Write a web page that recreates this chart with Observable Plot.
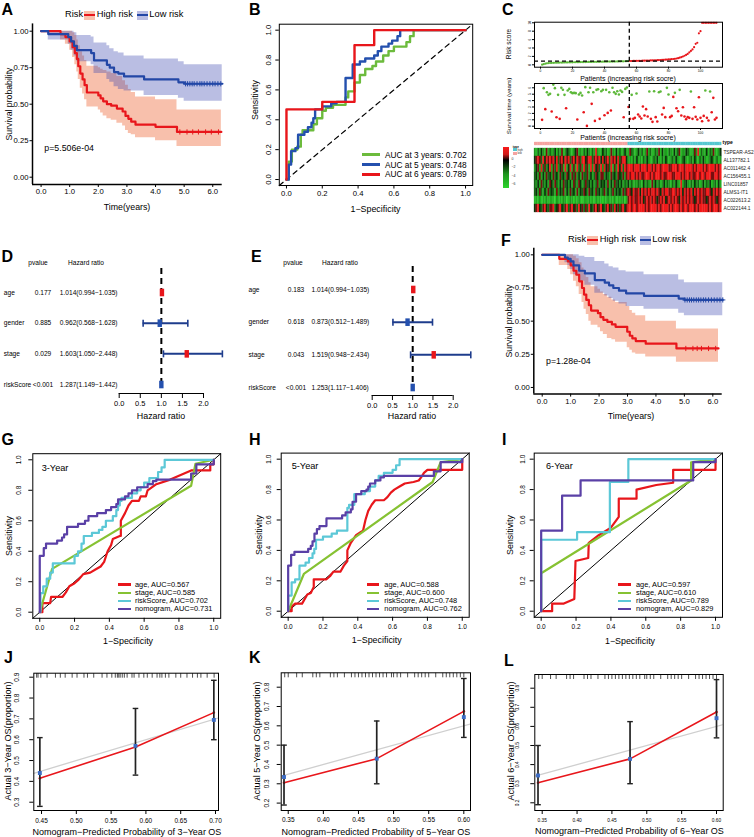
<!DOCTYPE html>
<html>
<head>
<meta charset="utf-8">
<script src="https://cdn.jsdelivr.net/npm/d3@7"></script>
<script src="https://cdn.jsdelivr.net/npm/@observablehq/plot@0.6"></script>
<style>
  html, body { margin:0; padding:0; background:#fff; }
  #fig { position:relative; width:754px; height:837px; overflow:hidden; background:#fff;
         font-family: Arial, "Liberation Sans", Helvetica, sans-serif; color:#000; }
  #fig svg { position:absolute; overflow:visible; }
  .lbl { position:absolute; white-space:nowrap; line-height:1; }
  .key { position:absolute; }
</style>
</head>
<body>
<div id="fig"></div>
<script>
// ======================= DATA =======================
// --- A: Kaplan–Meier, training set (step points: time, survival, 95% CI) ---
const aHighTime  = [0,0.68,0.85,1.0,1.1,1.18,1.25,1.3,1.37,1.45,1.52,1.6,2.0,2.08,2.17,2.3,2.45,2.65,2.85,2.95,3.05,3.15,3.3,4.0,4.75,6.3];
const aHighSurv  = [1,0.98,0.96,0.93,0.89,0.85,0.81,0.76,0.71,0.67,0.63,0.58,0.56,0.54,0.52,0.50,0.49,0.47,0.45,0.42,0.40,0.38,0.36,0.345,0.31,0.31];
const aHighUpper = [1,1,1,1,0.99,0.97,0.94,0.90,0.86,0.83,0.80,0.76,0.75,0.74,0.73,0.72,0.71,0.69,0.66,0.63,0.60,0.58,0.55,0.53,0.46,0.46];
const aHighLower = [1,0.94,0.91,0.87,0.82,0.77,0.72,0.67,0.61,0.57,0.53,0.48,0.46,0.44,0.42,0.40,0.39,0.37,0.35,0.32,0.30,0.29,0.27,0.25,0.21,0.21];
const aHighCensor = [4.85,5.1,5.3,5.5,5.75,5.95,6.2];
const aLowTime  = [0,0.25,0.95,1.05,1.15,1.25,1.75,1.85,2.3,2.4,2.55,2.7,2.9,3.6,4.8,5.0,6.33];
const aLowSurv  = [1,0.98,0.96,0.93,0.90,0.87,0.85,0.80,0.77,0.75,0.72,0.71,0.69,0.67,0.65,0.64,0.64];
const aLowUpper = [1,1,1,1,0.99,0.97,0.96,0.92,0.90,0.88,0.86,0.85,0.83,0.81,0.79,0.77,0.77];
const aLowLower = [1,0.94,0.91,0.87,0.83,0.79,0.77,0.71,0.67,0.65,0.62,0.60,0.59,0.56,0.54,0.52,0.52];
const aLowCensor = [5.05,5.12,5.2,5.28,5.35,5.45,5.55,5.62,5.7,5.8,5.9,6.0,6.08,6.18,6.28];
const aPValue = "p=5.506e-04";

// --- F: Kaplan–Meier, validation set ---
const fHighTime  = [0,0.6,0.9,1.0,1.1,1.2,1.3,1.4,1.47,1.55,1.64,1.72,1.96,2.05,2.15,2.29,2.45,2.58,2.99,3.08,3.17,3.29,3.64,4.72,6.2];
const fHighSurv  = [1,0.97,0.95,0.92,0.88,0.85,0.80,0.75,0.70,0.66,0.62,0.58,0.56,0.53,0.51,0.495,0.475,0.457,0.42,0.39,0.37,0.35,0.33,0.294,0.294];
const fHighUpper = [1,1,1,1,0.99,0.97,0.94,0.90,0.86,0.83,0.79,0.76,0.74,0.72,0.70,0.68,0.66,0.64,0.61,0.58,0.56,0.54,0.50,0.44,0.44];
const fHighLower = [1,0.92,0.89,0.85,0.80,0.76,0.70,0.64,0.59,0.55,0.50,0.47,0.45,0.42,0.40,0.37,0.36,0.34,0.30,0.28,0.26,0.25,0.23,0.19,0.19];
const fHighCensor = [5.05,5.3,5.45,5.6,5.85,6.1];
const fLowTime  = [0,0.8,0.9,1.0,1.1,1.3,1.5,1.85,2.2,2.35,2.5,2.7,2.95,3.58,4.8,5.0,6.35];
const fLowSurv  = [1,0.98,0.97,0.95,0.92,0.88,0.86,0.81,0.79,0.77,0.75,0.73,0.71,0.69,0.67,0.66,0.66];
const fLowUpper = [1,1,1,1,1,0.99,0.98,0.95,0.93,0.91,0.90,0.88,0.87,0.85,0.81,0.79,0.79];
const fLowLower = [1,0.94,0.92,0.89,0.85,0.80,0.77,0.71,0.69,0.67,0.65,0.63,0.61,0.59,0.56,0.54,0.54];
const fLowCensor = [5.02,5.1,5.18,5.25,5.33,5.42,5.5,5.58,5.67,5.75,5.85,5.95,6.05,6.15,6.25,6.35];
const fPValue = "p=1.28e-04";

const kmTicksX = [0,1,2,3,4,5,6];
const kmTicksY = [0,0.25,0.5,0.75,1];

// --- B: time-dependent ROC (step corners: fpr, tpr) ---
const bRoc3Fpr = [0,0.013,0.03,0.06,0.08,0.09,0.15,0.17,0.2,0.22,0.26,0.33,0.345,0.38,0.41,0.44,0.48,0.5,0.54,0.57,0.6,0.67,0.69,0.71,1];
const bRoc3Tpr = [0,0.12,0.2,0.22,0.3,0.33,0.37,0.41,0.46,0.48,0.5,0.55,0.59,0.65,0.7,0.74,0.76,0.79,0.83,0.86,0.89,0.92,0.96,1,1];
const bRoc5Fpr = [0,0.013,0.026,0.05,0.065,0.1,0.12,0.14,0.15,0.16,0.2,0.25,0.28,0.33,0.37,0.41,0.44,0.49,0.51,0.53,0.57,0.59,0.62,0.635,1];
const bRoc5Tpr = [0,0.1,0.19,0.21,0.3,0.32,0.35,0.38,0.41,0.47,0.49,0.51,0.52,0.68,0.77,0.79,0.81,0.83,0.86,0.89,0.91,0.93,0.96,1,1];
const bRoc6Fpr = [0,0,0.2,0.38,0.49,1];
const bRoc6Tpr = [0,0.47,0.52,0.9,1,1];
const bLegend = ["AUC at 3 years: 0.702","AUC at 5 years: 0.748","AUC at 6 years: 0.789"];

// --- C: risk score distribution, survival status, heatmap ---
const lowCount = 55;
const riskCutoff = 0.89;
const riskScore = [
  0.02,0.15,0.28,0.36,0.40,0.43,0.45,0.47,0.49,0.50,
  0.51,0.52,0.53,0.54,0.55,0.56,0.57,0.58,0.59,0.60,
  0.61,0.62,0.62,0.63,0.64,0.65,0.65,0.66,0.67,0.68,
  0.68,0.69,0.70,0.70,0.71,0.72,0.72,0.73,0.74,0.74,
  0.75,0.76,0.76,0.77,0.78,0.78,0.79,0.80,0.81,0.82,
  0.83,0.84,0.85,0.86,0.88,
  0.90,0.91,0.92,0.93,0.94,0.95,0.96,0.97,0.98,0.99,
  1.00,1.01,1.02,1.04,1.05,1.07,1.08,1.10,1.12,1.14,
  1.16,1.18,1.21,1.24,1.27,1.30,1.34,1.38,1.43,1.50,
  1.58,1.70,1.82,1.98,2.15,2.35,2.60,2.95,3.30,3.65,
  4.20,5.00,5.25,7.50,8.00,
  10,10,10,10,10,10,10,10,10,10];
const survTime = [
  0.99,5.94,2.66,5.31,4.90,5.05,2.29,6.50,5.94,1.40,
  4.90,1.15,6.00,5.70,4.90,2.81,5.57,5.83,5.31,5.16,
  5.20,5.16,1.04,4.95,5.20,4.80,2.19,6.10,0.05,5.31,
  6.00,3.49,5.31,0.83,5.68,5.78,1.15,5.47,5.68,1.72,
  5.68,2.08,5.31,2.45,6.00,5.31,5.05,5.47,4.95,5.57,
  5.36,1.40,5.83,6.05,3.00,
  1.15,4.90,1.15,1.30,5.10,1.82,1.51,1.20,3.07,1.67,
  2.66,1.51,5.42,1.15,0.68,5.47,1.41,0.73,5.31,5.42,
  1.82,2.86,1.41,5.99,4.95,1.41,1.61,4.58,5.21,2.81,
  2.34,5.68,1.67,2.97,1.51,1.09,1.41,1.30,5.42,1.15,
  2.97,1.46,1.04,4.53,1.30,0.78,1.61,5.57,1.30,0.89,
  5.42,2.19,4.43,1.04,1.30];
const survDead = [
  1,0,1,0,0,0,1,0,0,1, 0,1,0,0,0,1,0,0,0,0, 0,0,1,0,0,0,1,0,1,0,
  0,1,0,1,0,0,1,0,0,1, 0,1,0,1,0,0,0,0,0,0, 0,1,0,0,1,
  1,0,1,1,0,1,1,1,1,1, 1,1,0,1,1,0,1,1,0,0, 1,1,1,0,0,1,1,1,0,1,
  1,0,1,1,1,1,1,1,0,1, 1,1,1,1,1,1,1,0,1,1, 0,1,1,1,1];
const hmGenes = ["TSPEAR-AS2","AL137782.1","AC011462.4","AC156455.1","LINC01857","ALMS1-IT1","AC022613.2","AC022144.1"];
// expression level codes per patient (0 = lowest / green ... 8 = highest / red)
const hmTSPEAR   = "3142531624 2351426135 4213562314 2531427312 5341263152 4135226431 3524136241 2436152314 3152461325 4213637142 2514362135";
const hmAL137782 = "5676485768 6758467586 7468576478 5687467685 7568476857 4687523142 5231425312 4352142531 3425312452 1342531425 3124532413";
const hmAC011462 = "3562746358 2647356283 5736284637 4628375648 3756482637 5847687867 7868786876 8687678786 6878687768 7876868786 8678786868";
const hmAC156455 = "4536253645 3645264536 5264635264 4635246536 6354264536 5463676786 7686678768 6787686678 7668786767 8676678687 6787668768";
const hmLINC01857 = "4352643526 5364253645 3526436524 6453524635 4536253645 3524352413 2431524316 3524135243 1425317245 3142534125 2435134152";
const hmALMS1    = "4536425364 5426354625 3645263546 5364526453 4635246354 5364676586 6758676867 7686576786 6876768576 7685768676 6786576867";
const hmAC022613 = "1213021312 2103121320 1320213102 2131203121 0213121302 1230267676 6767567676 7656767567 6767657676 7676567676 6567676567";
const hmAC022144 = "5685468546 6845685468 4685648564 6485468568 5468564856 4685678687 6787867678 7867687786 8678768678 6787686787 7868678768";
const hmLevels = [-6.5,-5.5,-4.5,-3.5,-2.4,-1.2,0.8,2.6,3.2];
const hmLegendTicks = [0,-2,-4,-6];

// --- D / E: multivariate Cox forest plots ---
const forestVars = ["age","gender","stage","riskScore"];
const dPval = ["0.177","0.885","0.029","<0.001"];
const dHR   = [1.014,0.962,1.603,1.287];
const dLow  = [0.994,0.568,1.050,1.149];
const dHigh = [1.035,1.628,2.448,1.442];
const dDrawnAt = [1.014,0.962,1.603,1.0];
const ePval = ["0.183","0.618","0.043","<0.001"];
const eHR   = [1.014,0.873,1.519,1.253];
const eLow  = [0.994,0.512,0.948,1.117];
const eHigh = [1.035,1.489,2.434,1.406];
const eDrawnAt = [1.014,0.873,1.519,1.0];
const ciShown = [true,true,true,false];
const forestBoxColor = ["#E8161B","#2450AE","#E8161B","#2450AE"];
const forestTicks = [0,0.5,1,1.5,2];

// --- G / H / I: ROC of age, stage, riskScore, nomogram ---
const rocNames = ["age","stage","riskScore","nomogram"];
const gAUC = ["0.567","0.585","0.702","0.731"];
const hAUC = ["0.588","0.600","0.748","0.762"];
const iAUC = ["0.597","0.610","0.789","0.829"];
const gRedFpr = [0,0.015,0.015,0.06,0.065,0.13,0.15,0.17,0.2,0.22,0.25,0.29,0.32,0.35,0.37,0.39,0.41,0.42,0.46,0.466,0.466,0.49,0.51,0.53,0.57,0.58,0.61,0.62,0.67,0.75,0.81,0.87,0.98,0.98,1,1];
const gRedTpr = [0,0,0.06,0.06,0.1,0.1,0.13,0.17,0.19,0.21,0.25,0.26,0.28,0.30,0.33,0.40,0.44,0.48,0.50,0.50,0.60,0.65,0.70,0.73,0.73,0.76,0.76,0.80,0.84,0.87,0.90,0.93,0.93,0.97,0.97,1];
const gGreenFpr = [0,0.071,0.87,0.895,1];
const gGreenTpr = [0,0.284,0.83,0.974,1];
const gCyanFpr = [0,0.004,0.02,0.04,0.06,0.075,0.2,0.22,0.24,0.253,0.3,0.34,0.36,0.38,0.42,0.44,0.45,0.46,0.47,0.53,0.56,0.58,0.6,0.63,0.68,0.7,0.718,1];
const gCyanTpr = [0,0.125,0.17,0.22,0.26,0.32,0.37,0.40,0.45,0.50,0.52,0.54,0.56,0.60,0.63,0.67,0.70,0.73,0.75,0.78,0.80,0.82,0.85,0.88,0.92,0.95,1,1];
const gPurpleFpr = [0,0,0.023,0.036,0.1,0.128,0.14,0.157,0.22,0.26,0.28,0.33,0.38,0.41,0.44,0.45,0.49,0.51,0.53,0.56,0.62,0.65,0.67,0.87,0.9,1];
const gPurpleTpr = [0,0.37,0.42,0.45,0.47,0.49,0.51,0.56,0.58,0.60,0.63,0.65,0.67,0.69,0.71,0.74,0.76,0.78,0.80,0.82,0.84,0.86,0.87,0.91,0.97,1];
const hRedFpr = [0,0.02,0.02,0.04,0.08,0.11,0.13,0.147,0.147,0.22,0.24,0.26,0.3,0.32,0.34,0.34,0.36,0.39,0.416,0.43,0.444,0.46,0.48,0.5,0.55,0.57,0.59,0.61,0.64,0.67,0.72,0.75,0.77,0.78,0.8,1,1];
const hRedTpr = [0,0,0.03,0.05,0.05,0.11,0.12,0.16,0.21,0.21,0.23,0.26,0.26,0.3,0.33,0.40,0.45,0.50,0.52,0.53,0.60,0.66,0.70,0.73,0.73,0.75,0.78,0.80,0.82,0.84,0.85,0.86,0.89,0.91,0.93,0.93,1];
const hGreenFpr = [0,0.09,0.83,0.876,1];
const hGreenTpr = [0,0.245,0.85,0.98,1];
const hCyanFpr = [0,0,0.02,0.04,0.065,0.1,0.12,0.14,0.15,0.16,0.2,0.25,0.28,0.34,0.35,0.38,0.44,0.47,0.5,0.52,0.55,0.6,0.62,0.64,1];
const hCyanTpr = [0,0.103,0.19,0.21,0.30,0.32,0.35,0.38,0.41,0.47,0.49,0.51,0.53,0.68,0.70,0.77,0.79,0.82,0.86,0.89,0.91,0.93,0.96,1,1];
const hPurpleFpr = [0,0,0.017,0.036,0.115,0.13,0.14,0.151,0.165,0.18,0.22,0.31,0.33,0.36,0.37,0.39,0.42,0.45,0.46,0.47,0.5,0.53,0.55,0.837,0.876,1];
const hPurpleTpr = [0,0.30,0.37,0.39,0.41,0.43,0.46,0.51,0.54,0.56,0.61,0.63,0.65,0.67,0.72,0.77,0.79,0.80,0.82,0.84,0.86,0.88,0.89,0.92,0.98,1];
const iRedFpr = [0,0.063,0.063,0.13,0.19,0.197,0.27,0.273,0.33,0.4,0.445,0.445,0.547,0.547,0.66,0.757,0.757,1,1];
const iRedTpr = [0,0,0.05,0.05,0.08,0.33,0.35,0.45,0.50,0.55,0.62,0.74,0.74,0.80,0.83,0.845,0.93,0.93,1];
const iGreenFpr = [0,0,0.86,0.86,1];
const iGreenTpr = [0,0.25,0.86,0.98,1];
const iCyanFpr = [0,0,0.206,0.394,0.5,1];
const iCyanTpr = [0,0.47,0.52,0.85,1,1];
const iPurpleFpr = [0,0,0.12,0.226,0.872,1];
const iPurpleTpr = [0,0.53,0.76,0.86,0.98,1];

// --- J / K / L: calibration curves ---
const jPred = [0.4476,0.585,0.6976];
const jObs  = [0.44,0.57,0.695];
const jLow  = [0.28,0.43,0.60];
const jHigh = [0.61,0.75,0.885];
const jFit  = [0.415,0.565,0.73];
const jRug  = [0.443,0.445,0.449,0.458,0.47,0.477,0.484,0.494,0.501,0.511,0.516,0.525,0.537,0.544,0.551,0.556,0.559,0.561,0.563,0.566,0.569,0.573,0.58,0.583,0.59,0.597,0.602,0.609,0.616,0.62,0.623,0.628,0.633,0.643,0.65,0.659,0.667,0.674,0.679,0.688,0.698];
const kPred = [0.344,0.476,0.600];
const kObs  = [0.335,0.43,0.645];
const kLow  = [0.19,0.30,0.54];
const kHigh = [0.50,0.625,0.845];
const kFit  = [0.305,0.43,0.675];
const kRug  = [0.345,0.35,0.362,0.37,0.385,0.39,0.395,0.41,0.415,0.42,0.43,0.44,0.445,0.45,0.455,0.46,0.465,0.47,0.475,0.48,0.485,0.49,0.497,0.5,0.505,0.51,0.52,0.53,0.535,0.54,0.545,0.55,0.56,0.57,0.575,0.58,0.585,0.59,0.595,0.6];
const lPred = [0.344,0.476,0.600];
const lObs  = [0.343,0.43,0.643];
const lLow  = [0.19,0.30,0.54];
const lHigh = [0.50,0.625,0.845];
const lFit  = [0.305,0.43,0.675];
const lRug  = kRug;

// ======================= HELPERS =======================
const fig = document.getElementById("fig");
const FONT = 'Arial, "Liberation Sans", Helvetica, sans-serif';
const RED = "#E8161B", KMBLUE = "#2347A6", ROCGREEN = "#6CBB3C", ROCBLUE = "#2450AE";
const GR = "#86C232", CY = "#5CC8D7", PU = "#5A40A6";
const PT_GREEN = "#5DB83A";
const ANN_LOW = "#F5A3A0", ANN_HIGH = "#55C7D0";
const HM_DOMAIN = [-6.8, -3.5, 0, 1.4, 3.2];
const HM_RANGE = ["#2BD42B", "#1E961E", "#000000", "#D01818", "#F81A1A"];
const RED_BAND = "rgba(238,106,58,0.42)", BLUE_BAND = "rgba(58,69,176,0.35)";

function style(size) {
  return {background: "transparent", fontFamily: FONT, fontSize: size + "px", color: "black", overflow: "visible"};
}
function put(el, left, top) {
  el.style.position = "absolute"; el.style.left = left + "px"; el.style.top = top + "px";
  fig.appendChild(el); return el;
}
function txt(s, x, y, o = {}) {
  const e = document.createElement("div");
  e.className = "lbl"; e.textContent = s;
  e.style.fontSize = (o.size || 9) + "px";
  if (o.bold) e.style.fontWeight = "bold";
  if (o.color) e.style.color = o.color;
  e.style.left = x + "px"; e.style.top = y + "px";
  const ax = o.anchor === "start" ? "0" : o.anchor === "end" ? "-100%" : "-50%";
  e.style.transform = `translate(${ax},-50%)` + (o.rotate ? ` rotate(${o.rotate}deg)` : "");
  fig.appendChild(e); return e;
}
function box(x, y, w, h, bg) {
  const d = document.createElement("div");
  d.className = "key";
  d.style.left = x + "px"; d.style.top = y + "px"; d.style.width = w + "px"; d.style.height = h + "px";
  d.style.background = bg;
  fig.appendChild(d); return d;
}
const sym = f => ({draw: f});
const plusSym = sym(c => { c.moveTo(-2.6, 0); c.lineTo(2.6, 0); c.moveTo(0, -2.6); c.lineTo(0, 2.6); });
const vCap = sym(c => { c.moveTo(0, -3.5); c.lineTo(0, 3.5); });
const hCap = sym(c => { c.moveTo(-2.8, 0); c.lineTo(2.8, 0); });
const rugTick = sym(c => { c.moveTo(0, 0); c.lineTo(0, 4.5); });
const boxSym = sym(c => { c.rect(-2.2, -3.8, 4.4, 7.6); });

function stepValue(times, surv, t) {
  let v = surv[0];
  for (let i = 0; i < times.length; i++) if (times[i] <= t) v = surv[i];
  return v;
}
const pairs = (xs, ys) => xs.map((x, i) => [x, ys[i]]);

// ---- Kaplan–Meier panel (ggsurvplot style) ----
function kmPanel(o) {
  const {left, top, width, height, fx0, fx1, fy0, fy1, xDomain, yDomain, groups} = o;
  const series = groups.map(g => g.time.map((t, i) => ({t, s: g.surv[i], lo: g.lower[i], hi: g.upper[i]})));
  const marks = [];
  groups.forEach((g, k) => marks.push(Plot.areaY(series[k], {x: "t", y1: "lo", y2: "hi", curve: "step-after", fill: g.band})));
  groups.forEach((g, k) => {
    marks.push(Plot.line(series[k], {x: "t", y: "s", curve: "step-after", stroke: g.color, strokeWidth: 2.2}));
    const cens = g.censor.map(t => ({t, s: stepValue(g.time, g.surv, t)}));
    marks.push(Plot.dot(cens, {x: "t", y: "s", symbol: plusSym, stroke: g.color, strokeWidth: 1, fill: "none"}));
  });
  marks.push(Plot.ruleX([xDomain[0]], {stroke: "black", strokeWidth: 1.5}));
  marks.push(Plot.ruleY([yDomain[0]], {stroke: "black", strokeWidth: 1.5}));
  marks.push(Plot.axisX({ticks: kmTicksX, tickSize: 3, tickPadding: 1.5, fontSize: 7.7, label: null}));
  marks.push(Plot.axisY({ticks: kmTicksY, tickFormat: d3.format(".2f"), tickSize: 2.5, tickPadding: 1.5, fontSize: 7.7, label: null}));
  const svg = Plot.plot({
    width, height,
    marginLeft: fx0 - left, marginRight: left + width - fx1,
    marginTop: fy0 - top, marginBottom: top + height - fy1,
    x: {domain: xDomain, label: null}, y: {domain: yDomain, label: null},
    style: style(7.7), marks
  });
  return put(svg, left, top);
}

// ---- base-R style panel (box frame, rotated y labels) ----
function rPanel(o) {
  const {left, top, width, height, fx0, fx1, fy0, fy1, xDomain, yDomain, xTicks, yTicks,
         xFmt, yFmt, tick, tickSize = 4, xPad = 2, yLabDx = -11, marks, color} = o;
  const svg = Plot.plot({
    width, height,
    marginLeft: fx0 - left, marginRight: left + width - fx1,
    marginTop: fy0 - top, marginBottom: top + height - fy1,
    x: {domain: xDomain, label: null},
    y: {domain: yDomain, label: null},
    color: color || {type: "identity"},
    style: style(tick),
    marks: [
      ...marks,
      Plot.frame({stroke: "black", strokeWidth: 1}),
      Plot.axisX({ticks: xTicks, tickFormat: xFmt, tickSize, tickPadding: xPad, fontSize: tick, label: null}),
      Plot.axisY({ticks: yTicks, tickFormat: () => "", tickSize, label: null}),
      Plot.text(yTicks, {y: d => d, text: d => yFmt(d), frameAnchor: "left", dx: yLabDx, rotate: -90, textAnchor: "middle", fontSize: tick})
    ]
  });
  return put(svg, left, top);
}

// ---- forest plot ----
function forest(o) {
  const {left, top, width, height, rowY0, rowStep, axisPx, x0px, x2px, pval, hr, lo, hi, drawnAt,
         colName, colP, colHR, dashTop, dashBot} = o;
  const yVal = px => (px - rowY0) / rowStep;
  const rows = forestVars.map((name, i) => ({
    i, name, p: pval[i],
    label: `${hr[i].toFixed(3)}(${lo[i].toFixed(3)}\u2212${hi[i].toFixed(3)})`,
    at: drawnAt[i], lo: lo[i], hi: hi[i], box: forestBoxColor[i], ci: ciShown[i]
  }));
  const ciRows = rows.filter(r => r.ci);
  const svg = Plot.plot({
    width, height, marginLeft: 0, marginRight: 0, marginTop: 0, marginBottom: top + height - axisPx,
    x: {domain: [0, 2], range: [x0px - left, x2px - left], label: null},
    y: {domain: [yVal(axisPx), yVal(top)], label: null, axis: null},
    color: {type: "identity"},
    style: style(7.5),
    marks: [
      Plot.ruleX([1], {y1: yVal(dashTop), y2: yVal(dashBot), stroke: "black", strokeWidth: 2, strokeDasharray: "6,4"}),
      Plot.ruleY(ciRows, {y: "i", x1: "lo", x2: "hi", stroke: "#1E3C8C", strokeWidth: 2}),
      Plot.dot(ciRows, {x: "lo", y: "i", symbol: vCap, stroke: "#1E3C8C", strokeWidth: 1.6, fill: "none"}),
      Plot.dot(ciRows, {x: "hi", y: "i", symbol: vCap, stroke: "#1E3C8C", strokeWidth: 1.6, fill: "none"}),
      Plot.dot(rows, {x: "at", y: "i", symbol: boxSym, fill: "box", stroke: "none"}),
      Plot.ruleY([yVal(axisPx)], {x1: 0, x2: 2, stroke: "black", strokeWidth: 1}),
      Plot.axisX({ticks: forestTicks, tickFormat: d3.format(".1f"), tickSize: 5, tickPadding: 2.5, fontSize: 7.5, label: null}),
      Plot.text(rows, {y: "i", text: "name", frameAnchor: "left", dx: colName, textAnchor: "start", fontSize: 6.6}),
      Plot.text(rows, {y: "i", text: "p", frameAnchor: "left", dx: colP, textAnchor: "middle", fontSize: 6.6}),
      Plot.text(rows, {y: "i", text: "label", frameAnchor: "left", dx: colHR, textAnchor: "start", fontSize: 6.6})
    ]
  });
  return put(svg, left, top);
}

// ---- ROC panel with four predictors ----
function rocPanel(o) {
  const {left, top, fx0, fx1, fy0, fy1, red, green, cyan, purple, yLabDx} = o;
  const ext = [-0.04, 1.04];
  return rPanel({
    left, top, width: 240, height: fy1 - top + 32, fx0, fx1, fy0, fy1,
    xDomain: ext, yDomain: ext, xTicks: [0,0.2,0.4,0.6,0.8,1], yTicks: [0,0.2,0.4,0.6,0.8,1],
    xFmt: d3.format(".1f"), yFmt: d3.format(".1f"), tick: 6.5, tickSize: 4, xPad: 3.5, yLabDx,
    marks: [
      Plot.line([[ext[0], ext[0]], [ext[1], ext[1]]], {stroke: "black", strokeWidth: 1}),
      Plot.line(red, {stroke: RED, strokeWidth: 2.2}),
      Plot.line(green, {stroke: GR, strokeWidth: 2.2}),
      Plot.line(cyan, {stroke: CY, strokeWidth: 2.2, curve: "step-after"}),
      Plot.line(purple, {stroke: PU, strokeWidth: 2.2, curve: "step-after"})
    ]
  });
}
function rocLegend(lineX, textX, y0, aucs) {
  const cols = [RED, GR, CY, PU];
  rocNames.forEach((n, i) => {
    const y = y0 + i * 8.2;
    box(lineX, y - 1.2, 12.4, 2.4, cols[i]);
    txt(`${n}, AUC=${aucs[i]}`, textX, y, {size: 7.4, anchor: "start"});
  });
}

// ---- calibration panel ----
function calPanel(o) {
  const {pred, obs, lo, hi, fit, rug, xDomain} = o;
  const pts = pred.map((x, i) => ({x, obs: obs[i], lo: lo[i], hi: hi[i], fit: fit[i]}));
  return rPanel({...o, xFmt: d3.format(".2f"), yFmt: d3.format(".1f"), marks: [
    Plot.line([[xDomain[0], xDomain[0]], [xDomain[1], xDomain[1]]], {stroke: "#CFCFCF", strokeWidth: 1.3, clip: true}),
    Plot.line(pts, {x: "x", y: "fit", stroke: RED, strokeWidth: 1.6}),
    Plot.dot(pts, {x: "x", y: "fit", r: 1.3, fill: RED}),
    Plot.ruleX(pts, {x: "x", y1: "lo", y2: "hi", stroke: "#222", strokeWidth: 1.7}),
    Plot.dot(pts, {x: "x", y: "lo", symbol: hCap, stroke: "#222", strokeWidth: 1.4, fill: "none"}),
    Plot.dot(pts, {x: "x", y: "hi", symbol: hCap, stroke: "#222", strokeWidth: 1.4, fill: "none"}),
    Plot.dot(pts, {x: "x", y: "obs", symbol: "square", r: 2.2, fill: "#3D6CC4", stroke: "none"}),
    Plot.dot(rug, {x: d => d, frameAnchor: "top", symbol: rugTick, stroke: "#222", strokeWidth: 0.8, fill: "none"})
  ]});
}

// ======================= PANELS =======================
// ---------- A ----------
kmPanel({left: 0, top: 0, width: 232, height: 215, fx0: 32, fx1: 221.7, fy0: 23.4, fy1: 184,
  xDomain: [-0.3, 6.33], yDomain: [-0.05, 1.05],
  groups: [
    {time: aHighTime, surv: aHighSurv, lower: aHighLower, upper: aHighUpper, censor: aHighCensor, color: RED, band: RED_BAND},
    {time: aLowTime, surv: aLowSurv, lower: aLowLower, upper: aLowUpper, censor: aLowCensor, color: KMBLUE, band: BLUE_BAND}
  ]});
txt("Survival probability", 8.5, 104, {size: 8.7, rotate: -90});
txt("Time(years)", 127, 206.5, {size: 8.8});
txt(aPValue, 44.3, 147.7, {size: 8.8, anchor: "start"});
function kmLegend(x0, y) {
  txt("Risk", x0, y, {size: 9.3, anchor: "start"});
  box(x0 + 19.3, y - 4.5, 10.7, 9, RED_BAND);
  box(x0 + 19.3, y - 1, 10.7, 2.2, RED);
  txt("High risk", x0 + 31.7, y, {size: 9.3, anchor: "start"});
  box(x0 + 72.3, y - 4.5, 10.4, 9, BLUE_BAND);
  box(x0 + 72.3, y - 1, 10.4, 2.2, KMBLUE);
  txt("Low risk", x0 + 84.3, y, {size: 9.3, anchor: "start"});
}
kmLegend(65, 15);

// ---------- B ----------
rPanel({left: 250, top: 0, width: 230, height: 215, fx0: 278.8, fx1: 472.2, fy0: 23.7, fy1: 185,
  xDomain: [-0.04, 1.04], yDomain: [-0.04, 1.04],
  xTicks: [0,0.2,0.4,0.6,0.8,1], yTicks: [0,0.2,0.4,0.6,0.8,1],
  xFmt: d3.format(".1f"), yFmt: d3.format(".1f"), tick: 7.7, tickSize: 3.5, xPad: 1.5, yLabDx: -11,
  marks: [
    Plot.line([[-0.04, -0.04], [1.04, 1.04]], {stroke: "black", strokeWidth: 1.2, strokeDasharray: "5,4"}),
    Plot.line(pairs(bRoc3Fpr, bRoc3Tpr), {stroke: ROCGREEN, strokeWidth: 2.4, curve: "step-after"}),
    Plot.line(pairs(bRoc5Fpr, bRoc5Tpr), {stroke: ROCBLUE, strokeWidth: 2.4, curve: "step-after"}),
    Plot.line(pairs(bRoc6Fpr, bRoc6Tpr), {stroke: RED, strokeWidth: 2.4, curve: "step-after"})
  ]});
txt("Sensitivity", 254.5, 100, {size: 8.9, rotate: -90});
txt("1\u2212Specificity", 375.5, 209, {size: 8.9});
[ROCGREEN, ROCBLUE, RED].forEach((c, i) => {
  const y = 154.7 + i * 9.8;
  box(361.7, y - 1.3, 18.3, 2.6, c);
  txt(bLegend[i], 385, y, {size: 8.3, anchor: "start"});
});

// ---------- C ----------
const patients = riskScore.map((v, i) => ({i: i + 1, v, t: survTime[i], dead: survDead[i], grp: i < lowCount ? "low" : "high"}));
const cX = [-3.75, 113.75], cTicks = [0,20,40,60,80,100];
rPanel({left: 500, top: 15, width: 254, height: 62, fx0: 534, fx1: 722, fy0: 21.7, fy1: 66.7,
  xDomain: cX, yDomain: [-0.57, 10.14], xTicks: cTicks, yTicks: [0,2,4,6,8,10],
  xFmt: d3.format("d"), yFmt: d3.format("d"), tick: 3.2, tickSize: 2, xPad: 0.8, yLabDx: -4.5,
  marks: [
    Plot.dot(patients, {x: "i", y: "v", r: 1.1, fill: d => d.grp === "low" ? PT_GREEN : RED, stroke: "none"}),
    Plot.ruleX([lowCount + 0.5], {stroke: "black", strokeWidth: 1.3, strokeDasharray: "4,3"}),
    Plot.ruleY([riskCutoff], {stroke: "black", strokeWidth: 1.3, strokeDasharray: "4,3"})
  ]});
txt("Risk score", 509, 44, {size: 6.5, rotate: -90});
txt("Patients (increasing risk socre)", 628, 77.8, {size: 7});
rPanel({left: 500, top: 78, width: 254, height: 56, fx0: 534, fx1: 722, fy0: 83, fy1: 128,
  xDomain: cX, yDomain: [-0.36, 6.67], xTicks: cTicks, yTicks: [0,1,2,3,4,5,6],
  xFmt: d3.format("d"), yFmt: d3.format("d"), tick: 3.2, tickSize: 2, xPad: 0.8, yLabDx: -4.5,
  marks: [
    Plot.dot(patients, {x: "i", y: "t", r: 1.3, fill: d => d.dead ? RED : PT_GREEN, stroke: "none"}),
    Plot.ruleX([lowCount + 0.5], {stroke: "black", strokeWidth: 1.3, strokeDasharray: "4,3"})
  ]});
txt("Survival time (years)", 509, 105.5, {size: 6.2, rotate: -90});
txt("Patients (increasing risk socre)", 628, 137.3, {size: 7});
// annotation bar
const nPat = riskScore.length;
put(Plot.plot({
  width: 187.4, height: 3.6, margin: 0,
  x: {type: "band", domain: d3.range(1, nPat + 1), padding: 0, axis: null},
  y: {type: "band", domain: ["type"], padding: 0, axis: null},
  color: {domain: ["low", "high"], range: [ANN_LOW, ANN_HIGH]},
  style: style(5),
  marks: [Plot.cell(patients, {x: "i", y: () => "type", fill: "grp", inset: -0.15})]
}), 534.3, 141.7);
// heatmap
const hmRows = [hmTSPEAR, hmAL137782, hmAC011462, hmAC156455, hmLINC01857, hmALMS1, hmAC022613, hmAC022144];
const cells = [];
hmRows.forEach((s, g) => s.replace(/\s+/g, "").split("").slice(0, nPat).forEach((ch, k) =>
  cells.push({i: k + 1, gene: hmGenes[g], v: hmLevels[+ch]})));
put(Plot.plot({
  width: 187.4 + 40, height: 70.9, marginLeft: 0, marginRight: 40, marginTop: 0, marginBottom: 0,
  x: {type: "band", domain: d3.range(1, nPat + 1), padding: 0, axis: null},
  y: {type: "band", domain: hmGenes, padding: 0, axis: null},
  color: {type: "linear", domain: HM_DOMAIN, range: HM_RANGE},
  style: style(5),
  marks: [
    Plot.cell(cells, {x: "i", y: "gene", fill: "v", inset: -0.15}),
    Plot.text(hmGenes, {y: d => d, text: d => d, frameAnchor: "right", dx: 1.5, textAnchor: "start", fontSize: 4.9, fill: "#222"})
  ]
}), 534.3, 145.3);
txt("type", 722.5, 142.2, {size: 5, bold: true, anchor: "start"});
box(503.3, 146.7, 6, 41.6, `linear-gradient(to bottom, ${HM_RANGE[4]} 0%, ${HM_RANGE[3]} 18%, #000 32%, ${HM_RANGE[1]} 66%, ${HM_RANGE[0]} 100%)`);
hmLegendTicks.forEach((v, k) => txt(String(v).replace("-", "\u2212"), 511.5, 160 + k * 8.33, {size: 3.5, anchor: "start", color: "#333"}));
txt("type", 512.7, 146.7, {size: 3, bold: true, anchor: "start"});
box(512.7, 148.2, 4, 3.2, ANN_HIGH); txt("high", 517.5, 149.8, {size: 2.8, anchor: "start", color: "#333"});
box(512.7, 151.6, 4, 3.2, ANN_LOW); txt("low", 517.5, 153.2, {size: 2.8, anchor: "start", color: "#333"});

// ---------- D ----------
forest({left: 0, top: 258, width: 240, height: 160, rowY0: 292, rowStep: 30.67, axisPx: 393,
  x0px: 118.7, x2px: 203, pval: dPval, hr: dHR, lo: dLow, hi: dHigh, drawnAt: dDrawnAt,
  colName: 3.3, colP: 42.5, colHR: 59.3, dashTop: 268, dashBot: 386});
txt("pvalue", 38, 263, {size: 6.6});
txt("Hazard ratio", 86, 263, {size: 6.6});
txt("Hazard ratio", 161, 415.7, {size: 8.9});

// ---------- E ----------
forest({left: 240, top: 258, width: 250, height: 160, rowY0: 289, rowStep: 32.67, axisPx: 395,
  x0px: 371.7, x2px: 452.7, pval: ePval, hr: eHR, lo: eLow, hi: eHigh, drawnAt: eDrawnAt,
  colName: 8, colP: 55.5, colHR: 71, dashTop: 266, dashBot: 388});
txt("pvalue", 293, 263, {size: 6.6});
txt("Hazard ratio", 340, 263, {size: 6.6});
txt("Hazard ratio", 412, 415.7, {size: 8.9});

// ---------- F ----------
kmPanel({left: 500, top: 240, width: 232, height: 190, fx0: 533.3, fx1: 721.7, fy0: 247.7, fy1: 393.6,
  xDomain: [-0.296, 6.33], yDomain: [-0.05, 1.05],
  groups: [
    {time: fHighTime, surv: fHighSurv, lower: fHighLower, upper: fHighUpper, censor: fHighCensor, color: RED, band: RED_BAND},
    {time: fLowTime, surv: fLowSurv, lower: fLowLower, upper: fLowUpper, censor: fLowCensor, color: KMBLUE, band: BLUE_BAND}
  ]});
txt("Survival probability", 508.5, 320.6, {size: 8.7, rotate: -90});
txt("Time(years)", 631, 415.7, {size: 8.8});
txt(fPValue, 546, 361, {size: 8.8, anchor: "start"});
kmLegend(568, 240);

// ---------- G / H / I ----------
rocPanel({left: 0, top: 430, fx0: 32.3, fx1: 220.2, fy0: 453.2, fy1: 617.8, yLabDx: -14,
  red: pairs(gRedFpr, gRedTpr), green: pairs(gGreenFpr, gGreenTpr), cyan: pairs(gCyanFpr, gCyanTpr), purple: pairs(gPurpleFpr, gPurpleTpr)});
rocLegend(118.3, 135, 584.5, gAUC);
txt("3-Year", 41.7, 469, {size: 9.2, anchor: "start"});
txt("Sensitivity", 8.5, 535.5, {size: 8.9, rotate: -90});
txt("1\u2212Specificity", 128, 640.7, {size: 8.9});

rocPanel({left: 250, top: 430, fx0: 280.7, fx1: 468.7, fy0: 452.6, fy1: 616.8, yLabDx: -12.4,
  red: pairs(hRedFpr, hRedTpr), green: pairs(hGreenFpr, hGreenTpr), cyan: pairs(hCyanFpr, hCyanTpr), purple: pairs(hPurpleFpr, hPurpleTpr)});
rocLegend(366.7, 384.3, 584.5, hAUC);
txt("5-Year", 291.7, 467, {size: 9.2, anchor: "start"});
txt("Sensitivity", 258.5, 534.7, {size: 8.9, rotate: -90});
txt("1\u2212Specificity", 376.7, 640.3, {size: 8.9});

rocPanel({left: 500, top: 430, fx0: 533.7, fx1: 722, fy0: 452.6, fy1: 616.8, yLabDx: -11.7,
  red: pairs(iRedFpr, iRedTpr), green: pairs(iGreenFpr, iGreenTpr), cyan: pairs(iCyanFpr, iCyanTpr), purple: pairs(iPurpleFpr, iPurpleTpr)});
rocLegend(618.3, 636, 584.5, iAUC);
txt("6-Year", 546, 467, {size: 9.2, anchor: "start"});
txt("Sensitivity", 510, 534.7, {size: 8.9, rotate: -90});
txt("1\u2212Specificity", 630, 640.7, {size: 8.9});

// ---------- J / K / L ----------
calPanel({left: 0, top: 665, width: 240, height: 172, fx0: 33.3, fx1: 218, fy0: 672.7, fy1: 810,
  xDomain: [0.4389, 0.7043], yDomain: [0.2602, 0.9192], xTicks: [0.45,0.5,0.55,0.6,0.65,0.7], yTicks: [0.3,0.4,0.5,0.6,0.7,0.8,0.9],
  tick: 6.5, tickSize: 4, xPad: 3.5, yLabDx: -17,
  pred: jPred, obs: jObs, lo: jLow, hi: jHigh, fit: jFit, rug: jRug});
txt("Actual 3\u2212Year OS(proportion)", 8.5, 741, {size: 9.1, rotate: -90});
txt("Nomogram\u2212Predicted Probability of 3\u2212Year OS", 127, 831.7, {size: 9});

calPanel({left: 250, top: 665, width: 240, height: 172, fx0: 280.7, fx1: 470, fy0: 672.3, fy1: 810,
  xDomain: [0.34, 0.6095], yDomain: [0.1617, 0.8745], xTicks: [0.35,0.4,0.45,0.5,0.55,0.6], yTicks: [0.2,0.3,0.4,0.5,0.6,0.7,0.8],
  tick: 6.5, tickSize: 4, xPad: 3, yLabDx: -14.7,
  pred: kPred, obs: kObs, lo: kLow, hi: kHigh, fit: kFit, rug: kRug});
txt("Actual 5\u2212Year OS(proportion)", 258.3, 741, {size: 9.1, rotate: -90});
txt("Nomogram\u2212Predicted Probability of 5\u2212Year OS", 375.8, 831.7, {size: 9});

calPanel({left: 500, top: 665, width: 240, height: 172, fx0: 534.3, fx1: 722.7, fy0: 674, fy1: 810,
  xDomain: [0.3394, 0.6096], yDomain: [0.1597, 0.8717], xTicks: [0.35,0.4,0.45,0.5,0.55,0.6], yTicks: [0.2,0.3,0.4,0.5,0.6,0.7,0.8],
  tick: 4.8, tickSize: 4, xPad: 4.5, yLabDx: -17,
  pred: lPred, obs: lObs, lo: lLow, hi: lHigh, fit: lFit, rug: lRug});
txt("Actual 6\u2212Year OS(proportion)", 511.7, 741, {size: 9.1, rotate: -90});
txt("Nomogram\u2212Predicted Probability of 6\u2212Year OS", 629.5, 830.7, {size: 9});

// ---------- panel letters ----------
[["A",1.5,10],["B",249,10],["C",502,10],["D",1.5,257],["E",251,257],["F",501,241],
 ["G",1.5,440],["H",249,440],["I",502,440],["J",4,658],["K",249,658],["L",504,661]]
  .forEach(([s, x, y]) => txt(s, x, y, {size: 16, bold: true, anchor: "start"}));
</script>
</body>
</html>
